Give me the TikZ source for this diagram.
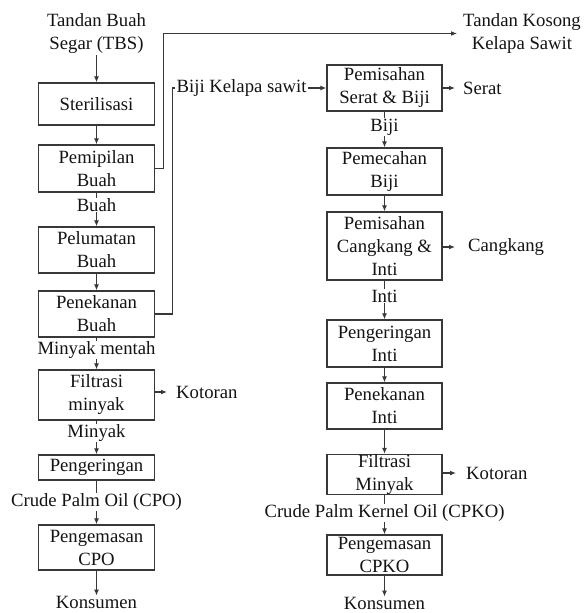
\documentclass[tikz,border=0pt]{standalone}
\usepackage{fontspec}
\setmainfont{Liberation Serif}
\usetikzlibrary{arrows.meta}
\tikzset{
 every node/.style={font=\fontsize{18.7}{23}\selectfont, text=black!92},
 box/.style={draw=black!78, line width=1.3pt, minimum width=116pt, align=center, inner sep=0pt},
 rbox/.style={box, minimum width=115pt},
 flow/.style={draw=black!78, line width=1.2pt, -{Latex[length=6pt,width=5pt]}},
 plain/.style={draw=black!78, line width=1.2pt},
 lbl/.style={fill=white, inner sep=0.5pt, align=center},
 outl/.style={anchor=west, inner xsep=8pt, inner ysep=0pt, align=center},
}
\begin{document}
\begin{tikzpicture}[x=1pt,y=-1pt]
\fill[white] (0,0) rectangle (588,613);
\useasboundingbox (0,0) rectangle (588,613);

% left column
\node[align=center, inner sep=1pt] (tbs) at (96.5,34) {Tandan Buah\\Segar (TBS)};
\node[box, minimum height=42pt] (ster) at (96.5,104) {Sterilisasi};
\node[box, minimum height=47pt] (pemi) at (96.5,168.5) {Pemipilan\\Buah};
\node[box, minimum height=46pt] (pelu) at (96.5,250) {Pelumatan\\Buah};
\node[box, minimum height=46pt] (pene) at (96.5,314) {Penekanan\\Buah};
\node[box, minimum height=50pt] (filt) at (96.5,395) {Filtrasi\\minyak};
\node[box, minimum height=25pt] (peng) at (96.5,467.5) {Pengeringan};
\node[box, minimum height=45pt] (pcpo) at (96.5,547.5) {Pengemasan\\CPO};
\node[inner sep=0pt] (kon1) at (96.5,602) {Konsumen};
\node[outl, inner xsep=9pt] (kot1) at (167,392) {Kotoran};

% right column
\node[align=center, anchor=west, inner xsep=6pt, inner ysep=0pt] (tkks) at (457,33.5) {Tandan Kosong\\Kelapa Sawit};
\node[rbox, minimum height=46pt] (psb) at (384.5,88) {Pemisahan\\Serat \& Biji};
\node[outl] (serat) at (455,88) {Serat};
\node[rbox, minimum height=47pt] (pb) at (384.5,171.5) {Pemecahan\\Biji};
\node[rbox, minimum height=68pt] (pci) at (384.5,246) {Pemisahan\\Cangkang \&\\Inti};
\node[outl, inner xsep=13pt] (cang) at (455,247) {Cangkang};
\node[rbox, minimum height=47pt] (pi) at (384.5,343.5) {Pengeringan\\Inti};
\node[rbox, minimum height=46pt] (pni) at (384.5,406) {Penekanan\\Inti};
\node[rbox, minimum height=39pt] (fm) at (384.5,474.5) {Filtrasi\\Minyak};
\node[outl, inner xsep=10pt] (kot2) at (456,473) {Kotoran};
\node[rbox, minimum height=40pt] (pcpko) at (384.5,555) {Pengemasan\\CPKO};
\node[inner sep=0pt] (kon2) at (384.5,603) {Konsumen};

\node[anchor=west, inner xsep=1.5pt, inner ysep=0pt] (bks) at (175,88) {Biji Kelapa sawit};

% connectors left
\draw[flow] (tbs) -- (ster);
\draw[flow] (ster) -- (pemi);
\draw[flow] (pemi) -- (pelu);
\draw[flow] (pelu) -- (pene);
\draw[flow] (pene) -- (filt);
\draw[flow] (filt) -- (peng);
\draw[flow] (peng) -- (pcpo);
\draw[flow] (pcpo) -- (kon1);
\draw[flow] (filt.east |- kot1.west) -- (kot1.west);

% cross connectors
\draw[flow] (pemi.east) -- ++(8,0) |- (tkks.west);
\draw[plain] (pene.east) -- ++(17,0) |- (bks.west);
\draw[flow] (bks.east) -- (psb.west);

% connectors right
\draw[flow] (psb) -- (pb);
\draw[flow] (pb) -- (pci);
\draw[flow] (pci) -- (pi);
\draw[flow] (pi) -- (pni);
\draw[flow] (pni) -- (fm);
\draw[flow] (fm) -- (pcpko);
\draw[flow] (pcpko) -- (kon2);
\draw[flow] (psb.east) -- (serat.west);
\draw[flow] (pci.east |- cang.west) -- (cang.west);
\draw[flow] (fm.east |- kot2.west) -- (kot2.west);

% labels on connectors
\node[lbl] (buah) at (96.5,205) {Buah};
\node[lbl] (mm) at (96.5,350) {Minyak mentah};
\node[lbl] (mny) at (96.5,433) {Minyak};
\node[lbl] (cpo) at (96.5,502) {Crude Palm Oil (CPO)};
\node[lbl] (biji) at (384.5,127) {Biji};
\node[lbl] (inti) at (384.5,296) {Inti};
\node[lbl] (cpko) at (384.5,513) {Crude Palm Kernel Oil (CPKO)};
\end{tikzpicture}
\end{document}
